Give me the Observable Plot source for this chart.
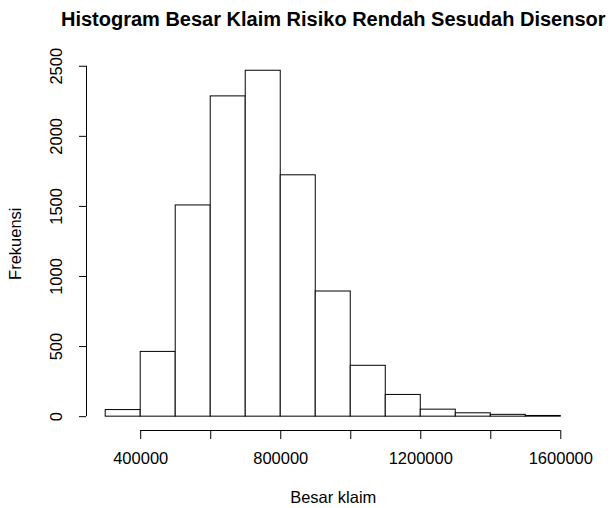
<!DOCTYPE html>
<html>
<head>
<meta charset="utf-8">
<script src="https://cdn.jsdelivr.net/npm/d3@7"></script>
<script src="https://cdn.jsdelivr.net/npm/@observablehq/plot@0.6"></script>
<style>
  html, body { margin: 0; padding: 0; background: #fff; }
  svg { display: block; }
</style>
</head>
<body>
<div id="chart"></div>
<script>
const binStarts = [300000, 400000, 500000, 600000, 700000, 800000, 900000, 1000000, 1100000, 1200000, 1300000, 1400000, 1500000];
const binWidth = 100000;
const counts = [47, 462, 1507, 2285, 2468, 1722, 893, 363, 155, 50, 24, 13, 5];
const yTicks = [0, 500, 1000, 1500, 2000, 2500];
const xTicks = [400000, 600000, 800000, 1000000, 1200000, 1400000, 1600000];
const xTickLabels = [400000, 800000, 1200000, 1600000];
const title = "Histogram Besar Klaim Risiko Rendah Sesudah Disensor";
const xLabel = "Besar klaim";
const yLabel = "Frekuensi";

const W = 611, H = 508, mL = 87, mR = 32.5, mT = 56.4, mB = 78;
const bins = binStarts.map((s, i) => ({x1: s, x2: s + binWidth, count: counts[i]}));
const xMin = binStarts[0], xMax = binStarts[binStarts.length - 1] + binWidth;
const xPad = (xMax - xMin) * 0.04;
const yMax = d3.max(counts);
const yPad = yMax * 0.04;
const xDomain = [xMin - xPad, xMax + xPad];
const yDomain = [-yPad, yMax + yPad];
// convert a pixel tick length into data units for rules
const xPerPx = (xDomain[1] - xDomain[0]) / (W - mL - mR);
const yPerPx = (yDomain[1] - yDomain[0]) / (H - mT - mB);
const tickLen = 7;
const fs = 16.5;
const font = "'Liberation Sans', Arial, sans-serif";

const chart = Plot.plot({
  width: W,
  height: H,
  marginLeft: mL,
  marginRight: mR,
  marginTop: mT,
  marginBottom: mB,
  style: {fontFamily: font, fontSize: fs + "px", color: "#000", background: "#fff"},
  x: {domain: xDomain, axis: null},
  y: {domain: yDomain, axis: null},
  marks: [
    Plot.rect(bins, {x1: "x1", x2: "x2", y1: 0, y2: "count", fill: "white", stroke: "black", strokeWidth: 1}),
    // y axis
    Plot.ruleX([xDomain[0]], {y1: yTicks[0], y2: yTicks[yTicks.length - 1], stroke: "black", dx: -1}),
    Plot.ruleY(yTicks, {y: d => d, x1: xDomain[0] - tickLen * xPerPx, x2: xDomain[0], stroke: "black", dx: -1}),
    Plot.text(yTicks, {x: xDomain[0], y: d => d, text: d => String(d), rotate: -90, dx: -31, textAnchor: "middle", lineAnchor: "middle", fontSize: fs, fill: "black"}),
    // x axis
    Plot.ruleY([yDomain[0]], {x1: xTicks[0], x2: xTicks[xTicks.length - 1], stroke: "black"}),
    Plot.ruleX(xTicks, {x: d => d, y1: yDomain[0], y2: yDomain[0] - 9 * yPerPx, stroke: "black"}),
    Plot.text(xTickLabels, {x: d => d, y: yDomain[0], text: d => String(d), dy: 28, textAnchor: "middle", lineAnchor: "middle", fontSize: fs, fill: "black"}),
    // labels
    Plot.text([xLabel], {x: (xDomain[0] + xDomain[1]) / 2, y: yDomain[0], text: d => d, dy: 67, textAnchor: "middle", lineAnchor: "middle", fontSize: fs, fill: "black"}),
    Plot.text([yLabel], {frameAnchor: "left", text: d => d, rotate: -90, dx: -72, textAnchor: "middle", lineAnchor: "middle", fontSize: fs, fill: "black"}),
    Plot.text([title], {frameAnchor: "top", text: d => d, dy: -37, textAnchor: "middle", lineAnchor: "middle", fontSize: 20, fontWeight: "bold", fill: "black"})
  ]
});
document.getElementById("chart").appendChild(chart);
</script>
</body>
</html>
